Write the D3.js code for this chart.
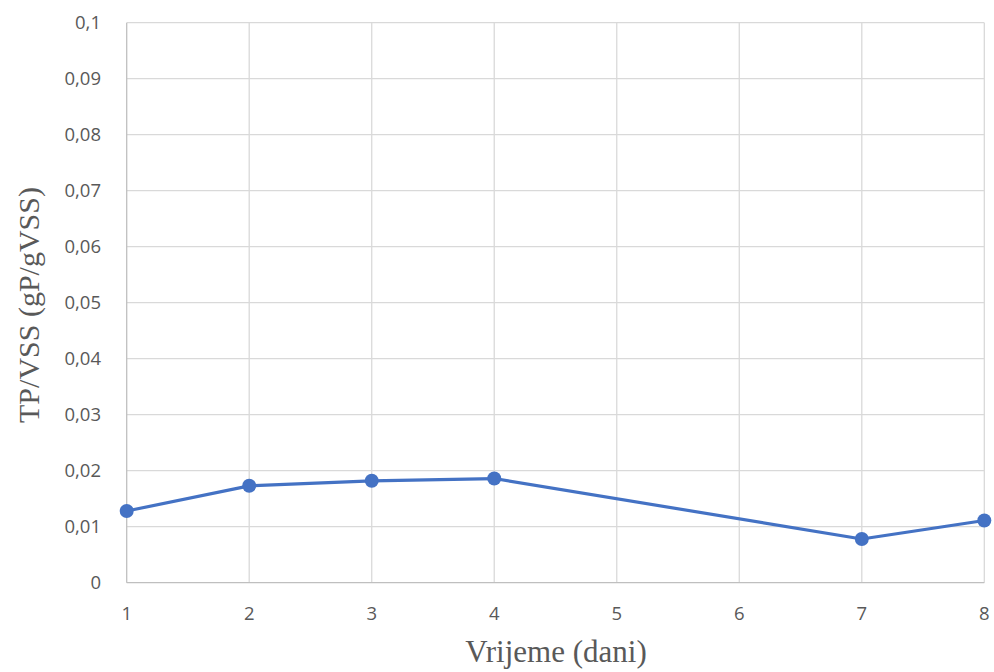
<!DOCTYPE html>
<html><head><meta charset="utf-8">
<script src="https://cdn.jsdelivr.net/npm/d3@7"></script>
<style>body{margin:0;background:#fff}svg{display:block}</style>
</head><body>
<script>
const days = [1, 2, 3, 4, 7, 8];
const tpVss = [0.0128, 0.0173, 0.0182, 0.0186, 0.0078, 0.0111];
const xTicks = [1, 2, 3, 4, 5, 6, 7, 8];
const yTicks = [0, 0.01, 0.02, 0.03, 0.04, 0.05, 0.06, 0.07, 0.08, 0.09, 0.1];
const xTitle = "Vrijeme (dani)";
const yTitle = "TP/VSS (gP/gVSS)";

const W = 994, H = 672;
const svg = d3.select("body").append("svg").attr("width", W).attr("height", H);
const x = d3.scaleLinear().domain([1, 8]).range([126.7, 984.3]);
const y = d3.scaleLinear().domain([0, 0.1]).range([582.7, 22.7]);
const fmt = v => String(+v.toFixed(2)).replace(".", ",");

// gridlines
svg.append("g").selectAll("line").data(yTicks.filter(d => d > 0)).join("line")
  .attr("x1", x(1)).attr("x2", x(8)).attr("y1", d => y(d)).attr("y2", d => y(d))
  .attr("stroke", "#d9d9d9").attr("stroke-width", 1.3);
svg.append("g").selectAll("line").data(xTicks.filter(d => d > 1)).join("line")
  .attr("x1", d => x(d)).attr("x2", d => x(d)).attr("y1", y(0)).attr("y2", y(0.1))
  .attr("stroke", "#d9d9d9").attr("stroke-width", 1.3);

// axis lines
svg.append("line").attr("x1", x(1)).attr("x2", x(1)).attr("y1", y(0)).attr("y2", y(0.1))
  .attr("stroke", "#bfbfbf").attr("stroke-width", 1.3);
svg.append("line").attr("x1", x(1)).attr("x2", x(8)).attr("y1", y(0)).attr("y2", y(0))
  .attr("stroke", "#bfbfbf").attr("stroke-width", 1.3);

// tick labels
const font = "Open Sans, Liberation Sans, sans-serif";
svg.append("g").selectAll("text").data(yTicks).join("text")
  .attr("x", 101).attr("y", d => y(d)).attr("dy", "0.35em")
  .attr("text-anchor", "end").attr("font-family", font).attr("font-size", 18.5)
  .attr("fill", "#595959").text(fmt);
svg.append("g").selectAll("text").data(xTicks).join("text")
  .attr("x", d => x(d)).attr("y", 614).attr("dy", "0.35em")
  .attr("text-anchor", "middle").attr("font-family", font).attr("font-size", 18.5)
  .attr("fill", "#595959").text(d => d);

// titles
const serif = "Liberation Serif, Times New Roman, serif";
svg.append("text").attr("x", 556).attr("y", 662).attr("text-anchor", "middle")
  .attr("font-family", serif).attr("font-size", 31)
  .attr("fill", "#595959").text(xTitle);
svg.append("text").attr("transform", "translate(39,305) rotate(-90)").attr("text-anchor", "middle")
  .attr("font-family", serif).attr("font-size", 30)
  .attr("fill", "#595959").text(yTitle);

// line
const data = days.map((d, i) => [d, tpVss[i]]);
svg.append("path").datum(data)
  .attr("d", d3.line().x(d => x(d[0])).y(d => y(d[1])))
  .attr("fill", "none").attr("stroke", "#4472C4").attr("stroke-width", 3.2)
  .attr("stroke-linejoin", "round");
svg.append("g").selectAll("circle").data(data).join("circle")
  .attr("cx", d => x(d[0])).attr("cy", d => y(d[1])).attr("r", 7)
  .attr("fill", "#4472C4");
</script>
</body></html>
